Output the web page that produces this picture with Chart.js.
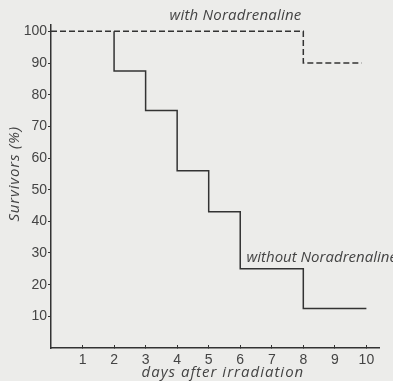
<!DOCTYPE html>
<html>
<head>
<meta charset="utf-8">
<script src="https://cdn.jsdelivr.net/npm/chart.js@4/dist/chart.umd.min.js"></script>
<style>
  html, body { margin: 0; padding: 0; background: #ececea; }
  #graph { display: block; }
</style>
</head>
<body>
<canvas id="graph" width="393" height="381"></canvas>
<script>
// survival curves
const withDays = [0, 8, 9.85];
const withSurv = [100, 90, 90];

const withoutDays = [2, 3, 4, 5, 6, 8, 10];
const withoutSurv = [100, 87.5, 75, 56, 43, 25, 12.5];

const xTicks = [1, 2, 3, 4, 5, 6, 7, 8, 9, 10];
const yTicks = [10, 20, 30, 40, 50, 60, 70, 80, 90, 100];

const ink = "#333";

function toPoints(xs, ys) {
  return xs.map((x, i) => ({ x: x, y: ys[i] }));
}

// text labels placed through the scales
const labelsPlugin = {
  id: "labels",
  afterDraw(chart) {
    const ctx = chart.ctx;
    const xs = chart.scales.x;
    const ys = chart.scales.y;
    ctx.save();
    ctx.fillStyle = "#444";
    ctx.font = "italic 15px 'Open Sans'";
    ctx.textBaseline = "middle";
    ctx.textAlign = "center";
    ctx.letterSpacing = "0.2px";
    ctx.fillText("with Noradrenaline", xs.getPixelForValue(5.85), ys.getPixelForValue(105));
    ctx.letterSpacing = "0px";
    ctx.textAlign = "left";
    ctx.fillText("without Noradrenaline", xs.getPixelForValue(6.2), ys.getPixelForValue(28.5));
    ctx.letterSpacing = "1px";
    ctx.textAlign = "center";
    ctx.fillText("days after irradiation", xs.getPixelForValue(5.45), 373);
    ctx.letterSpacing = "0.8px";
    ctx.translate(15, ys.getPixelForValue(55));
    ctx.rotate(-Math.PI / 2);
    ctx.fillText("Survivors (%)", 0, 0);
    ctx.restore();
  }
};

new Chart(document.getElementById("graph"), {
  type: "line",
  data: {
    datasets: [
      {
        label: "with Noradrenaline",
        data: toPoints(withDays, withSurv),
        stepped: "before",
        borderColor: ink,
        borderWidth: 1.5,
        borderDash: [6, 3],
        pointRadius: 0,
        fill: false
      },
      {
        label: "without Noradrenaline",
        data: toPoints(withoutDays, withoutSurv),
        stepped: "after",
        borderColor: ink,
        borderWidth: 1.5,
        pointRadius: 0,
        fill: false
      }
    ]
  },
  options: {
    responsive: false,
    animation: false,
    layout: { padding: { top: 25, right: 14, left: 0, bottom: 0 } },
    plugins: {
      legend: { display: false },
      tooltip: { enabled: false }
    },
    scales: {
      x: {
        type: "linear",
        min: 0,
        max: 10.4,
        afterBuildTicks: (s) => { s.ticks = xTicks.map(v => ({ value: v })); },
        afterFit: (s) => { s.height = 33; },
        grid: { drawOnChartArea: false, tickLength: -3, color: ink },
        border: { color: ink, width: 1.5 },
        ticks: {
          color: "#444",
          padding: 7,
          maxRotation: 0,
          font: { family: "'Liberation Sans'", size: 14 }
        }
      },
      y: {
        min: 0,
        max: 102,
        afterBuildTicks: (s) => { s.ticks = yTicks.map(v => ({ value: v })); },
        afterFit: (s) => { s.width = 51; },
        grid: { drawOnChartArea: false, tickLength: 3, color: ink },
        border: { color: ink, width: 1.5 },
        ticks: {
          color: "#444",
          padding: 1,
          font: { family: "'Liberation Sans'", size: 14 }
        }
      }
    }
  },
  plugins: [labelsPlugin]
});
</script>
</body>
</html>
